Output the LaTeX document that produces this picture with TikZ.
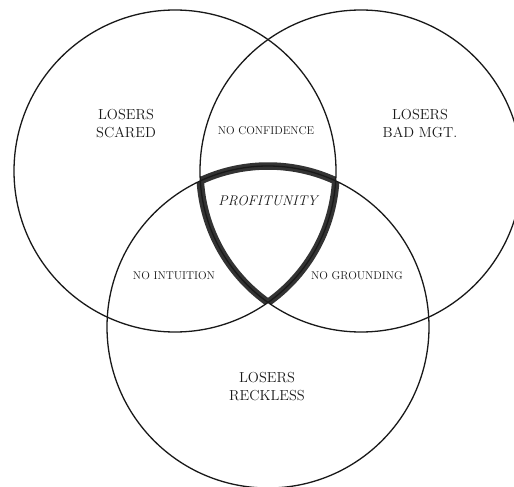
\documentclass[tikz,border=0pt]{standalone}
\begin{document}
\begin{tikzpicture}[x=1pt,y=-1pt,
  ring/.style={draw=black!90, line width=1.3pt},
  core/.style={draw=black!80, line width=7.5pt},
  biglabel/.style={align=center, text=black!90, font=\fontsize{14.5}{18}\selectfont, inner sep=0pt},
  smalllabel/.style={text=black!90, font=\fontsize{11.3}{13}\selectfont, inner sep=0pt},
  centrelabel/.style={text=black!90, font=\fontsize{14}{16}\selectfont\itshape, inner sep=0pt}]
\fill[white] (0,0) rectangle (514,487);
\useasboundingbox (0,0) rectangle (514,487);
\coordinate (cL) at (175,171);
\coordinate (cR) at (361,171);
\coordinate (cB) at (268,327);
% thick outline of the common region
\begin{scope}
  \clip (cL) circle[radius=161pt];
  \clip (cR) circle[radius=161pt];
  \draw[core] (cB) circle[radius=161pt];
\end{scope}
\begin{scope}
  \clip (cB) circle[radius=161pt];
  \clip (cR) circle[radius=161pt];
  \draw[core] (cL) circle[radius=161pt];
\end{scope}
\begin{scope}
  \clip (cB) circle[radius=161pt];
  \clip (cL) circle[radius=161pt];
  \draw[core] (cR) circle[radius=161pt];
\end{scope}
% circles
\draw[ring] (cL) circle[radius=161pt];
\draw[ring] (cR) circle[radius=161pt];
\draw[ring] (cB) circle[radius=161pt];
% labels
\node[biglabel] (scared) at (126,124) {LOSERS\\SCARED};
\node[biglabel] (badmgt) at (420,124) {LOSERS\\BAD MGT.};
\node[biglabel] (reckless) at (267,387) {LOSERS\\RECKLESS};
\node[smalllabel] (conf) at (266,131) {NO CONFIDENCE};
\node[smalllabel] (intu) at (174,276) {NO INTUITION};
\node[smalllabel] (ground) at (357,276) {NO GROUNDING};
\node[centrelabel] (profit) at (268,201) {PROFITUNITY};
\end{tikzpicture}
\end{document}
